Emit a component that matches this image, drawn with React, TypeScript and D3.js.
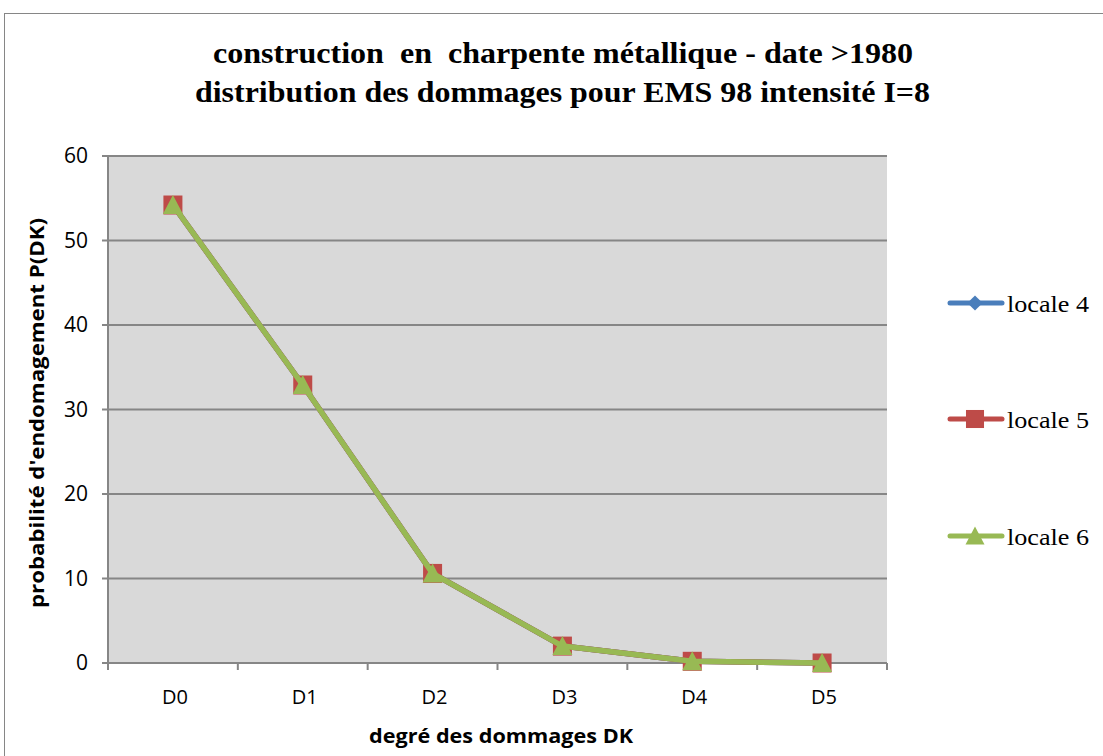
import React from "react";
import * as d3 from "d3";

const categories = ["D0", "D1", "D2", "D3", "D4", "D5"];
const locale4 = [54.2, 32.9, 10.6, 2.0, 0.2, 0.0];
const locale5 = [54.2, 32.9, 10.6, 2.0, 0.2, 0.0];
const locale6 = [54.2, 32.9, 10.6, 2.0, 0.2, 0.0];
const yTicks = [0, 10, 20, 30, 40, 50, 60];
const seriesNames = ["locale 4", "locale 5", "locale 6"];
const titleLines = [
  "construction  en  charpente métallique - date >1980",
  "distribution des dommages pour EMS 98 intensité I=8",
];

const colors = ["#4A7EBB", "#BE4B48", "#98B954"];
const markers = ["diamond", "square", "triangle"];

function Marker({ type, x, y, color, size = 1 }: { type: string; x: number; y: number; color: string; size?: number }) {
  if (type === "diamond") {
    const s = 8 * size;
    return <path d={`M${x},${y - s}L${x + s},${y}L${x},${y + s}L${x - s},${y}Z`} fill={color} />;
  }
  if (type === "square") {
    const s = 9.5 * size;
    return <rect x={x - s} y={y - s} width={2 * s} height={2 * s} fill={color} />;
  }
  const s = 10 * size;
  return <path d={`M${x},${y - s}L${x + s},${y + s * 0.9}L${x - s},${y + s * 0.9}Z`} fill={color} />;
}

export default function App() {
  const W = 1103, H = 756;
  const left = 108, right = 887, top = 156, bottom = 663;
  const x = d3.scaleBand().domain(categories).range([left, right]);
  const y = d3.scaleLinear().domain([0, 60]).range([bottom, top]);
  const data = [locale4, locale5, locale6];
  const line = d3
    .line<number>()
    .x((_, i) => (x(categories[i]) as number) + x.bandwidth() / 2)
    .y((d) => y(d));
  const boundaries = categories.map((c) => x(c) as number).concat([right]);
  const legendY = [303, 419, 536];
  const sans = "'Open Sans', 'Noto Sans', sans-serif";
  const serif = "'Liberation Serif', 'Times New Roman', serif";

  return (
    <svg width={W} height={H} style={{ position: "absolute", left: 0, top: 0 }}>
      <rect x={0} y={0} width={W} height={H} fill="#fff" />
      <rect x={4.5} y={13.5} width={1110} height={760} fill="#fff" stroke="#868686" strokeWidth={1} />
      {titleLines.map((t, i) => (
        <text
          key={i}
          x={i === 0 ? 213 : 195}
          y={63 + i * 39}
          textLength={i === 0 ? 700 : 735}
          lengthAdjust="spacingAndGlyphs"
          fontFamily={serif}
          fontWeight="bold"
          fontSize={30}
          fill="#000"
          style={{ whiteSpace: "pre" }}
        >
          {t}
        </text>
      ))}
      <rect x={left} y={top} width={right - left} height={bottom - top} fill="#D9D9D9" />
      {yTicks.map((t) => (
        <g key={t}>
          <line x1={left - 6} x2={right} y1={y(t)} y2={y(t)} stroke="#868686" strokeWidth={2} />
          <text x={88} y={y(t) + 7} textAnchor="end" fontFamily={sans} fontSize={21} fill="#000">
            {t}
          </text>
        </g>
      ))}
      <line x1={left} x2={left} y1={top} y2={bottom} stroke="#868686" strokeWidth={2} />
      {boundaries.map((b, i) => (
        <line key={i} x1={b} x2={b} y1={bottom} y2={bottom + 7} stroke="#868686" strokeWidth={2} />
      ))}
      {categories.map((c) => (
        <text
          key={c}
          x={(x(c) as number) + x.bandwidth() / 2 + 2}
          y={704}
          textAnchor="middle"
          fontFamily={sans}
          fontSize={20}
          fill="#000"
        >
          {c}
        </text>
      ))}
      <text
        x={369}
        y={743}
        textLength={264}
        lengthAdjust="spacingAndGlyphs"
        fontFamily={sans}
        fontWeight="bold"
        fontSize={20}
        fill="#000"
      >
        degré des dommages DK
      </text>
      <text
        transform={`translate(44,608) rotate(-90)`}
        textLength={390}
        lengthAdjust="spacingAndGlyphs"
        fontFamily={sans}
        fontWeight="bold"
        fontSize={19}
        fill="#000"
      >
        probabilité d'endomagement P(DK)
      </text>
      {data.map((d, si) => (
        <g key={si}>
          <path d={line(d) || ""} fill="none" stroke={colors[si]} strokeWidth={5.5} strokeLinejoin="round" />
          {d.map((v, i) => (
            <Marker
              key={i}
              type={markers[si]}
              x={(x(categories[i]) as number) + x.bandwidth() / 2}
              y={y(v)}
              color={colors[si]}
            />
          ))}
        </g>
      ))}
      {seriesNames.map((n, i) => (
        <g key={n}>
          <line x1={950} x2={1002} y1={legendY[i]} y2={legendY[i]} stroke={colors[i]} strokeWidth={5} strokeLinecap="round" />
          <Marker type={markers[i]} x={975} y={legendY[i]} color={colors[i]} size={0.95} />
          <text
            x={1007}
            y={legendY[i] + 9}
            textLength={82}
            lengthAdjust="spacingAndGlyphs"
            fontFamily={serif}
            fontSize={24}
            fill="#000"
          >
            {n}
          </text>
        </g>
      ))}
    </svg>
  );
}
